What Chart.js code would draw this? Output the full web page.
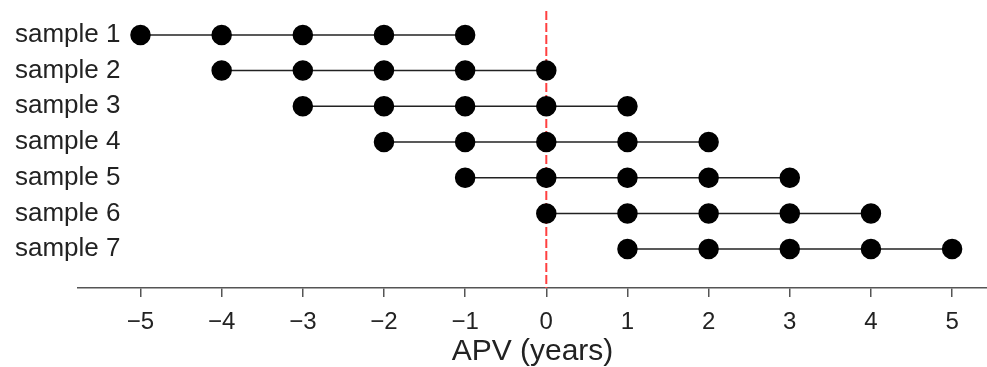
<!DOCTYPE html>
<html>
<head>
<meta charset="utf-8">
<script src="https://cdn.jsdelivr.net/npm/chart.js@4"></script>
<style>
  html, body { margin: 0; padding: 0; background: #fff; overflow: hidden; }
  #wrap { position: relative; width: 987px; height: 367px; }
  canvas { display: block; }
</style>
</head>
<body>
<div id="wrap"><canvas id="dotChart"></canvas></div>
<script>
const sampleNames = ['sample 1', 'sample 2', 'sample 3', 'sample 4', 'sample 5', 'sample 6', 'sample 7'];
const sample1 = [-5, -4, -3, -2, -1];
const sample2 = [-4, -3, -2, -1, 0];
const sample3 = [-3, -2, -1, 0, 1];
const sample4 = [-2, -1, 0, 1, 2];
const sample5 = [-1, 0, 1, 2, 3];
const sample6 = [0, 1, 2, 3, 4];
const sample7 = [1, 2, 3, 4, 5];
const xTicks = [-5, -4, -3, -2, -1, 0, 1, 2, 3, 4, 5];
const refLine = 0;

const allSamples = [sample1, sample2, sample3, sample4, sample5, sample6, sample7];
const Y_MIN = 0.33, Y_MAX = 8.09;

const datasets = allSamples.map((vals, i) => ({
    label: sampleNames[i],
    data: vals.map(v => ({ x: v, y: i + 1 })),
    showLine: true,
    borderColor: '#222',
    borderWidth: 1.5,
    backgroundColor: '#000',
    pointBackgroundColor: '#000',
    pointBorderColor: '#000',
    pointRadius: 9.5,
    pointHoverRadius: 9.5,
    clip: false
}));

// red dashed reference line at x = 0
datasets.push({
    label: 'ref',
    data: [{ x: refLine, y: Y_MIN }, { x: refLine, y: Y_MAX }],
    showLine: true,
    borderColor: '#ff4040',
    borderWidth: 2,
    borderDash: [9, 3],
    pointRadius: 0
});

// sample names drawn left-aligned at the canvas edge, over the plot area
const rowLabels = {
    id: 'rowLabels',
    afterDraw(chart) {
        const c = chart.ctx;
        const y = chart.scales.y;
        c.save();
        c.fillStyle = '#222';
        c.font = '26px "Liberation Sans", Arial, sans-serif';
        c.textAlign = 'left';
        c.textBaseline = 'middle';
        sampleNames.forEach((n, i) => c.fillText(n, 15, y.getPixelForValue(i + 1)));
        c.restore();
    }
};

const ctx = document.getElementById('dotChart').getContext('2d');
new Chart(ctx, {
    type: 'scatter',
    data: { datasets },
    plugins: [rowLabels],
    options: {
        responsive: true,
        maintainAspectRatio: false,
        animation: false,
        layout: { autoPadding: false, padding: { left: 15, right: 0, top: 11, bottom: 0 } },
        plugins: { legend: { display: false }, tooltip: { enabled: false } },
        scales: {
            x: {
                type: 'linear',
                min: -5.77,
                max: 5.43,
                afterBuildTicks: (axis) => { axis.ticks = xTicks.map(v => ({ value: v })); },
                afterFit: (axis) => { axis.height = 79; },
                grid: { drawOnChartArea: false, drawTicks: true, tickLength: 9, color: '#555', lineWidth: 1.5 },
                border: { display: true, color: '#555', width: 1.5 },
                ticks: {
                    color: '#222',
                    font: { family: 'Liberation Sans', size: 24, lineHeight: 1 },
                    padding: 13,
                    callback: (v) => (v < 0 ? '\u2212' + Math.abs(v) : String(v))
                },
                title: {
                    display: true,
                    text: 'APV (years)',
                    color: '#222',
                    font: { family: 'Liberation Sans', size: 30, lineHeight: 1 },
                    padding: { top: 3, bottom: 0 }
                }
            },
            y: {
                type: 'linear',
                reverse: true,
                min: Y_MIN,
                max: Y_MAX,
                afterFit: (axis) => { axis.width = 63; },
                grid: { display: false },
                border: { display: false },
                ticks: { display: false }
            }
        }
    }
});
</script>
</body>
</html>
